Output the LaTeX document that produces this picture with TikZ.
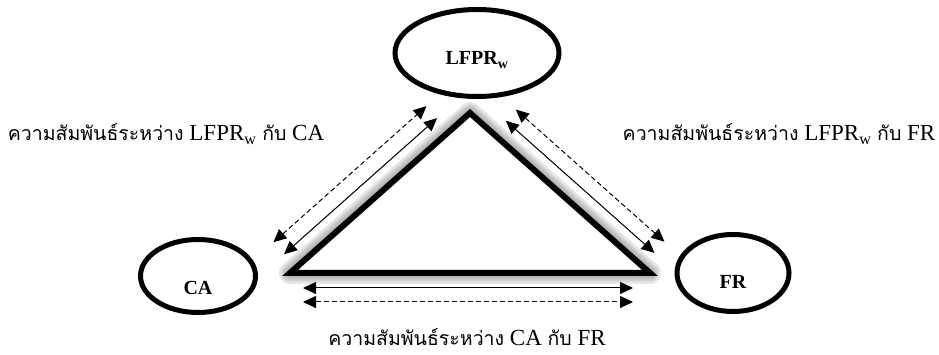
\documentclass[tikz,border=0pt]{standalone}
\usepackage{fontspec}
\setmainfont{Liberation Serif}
\newfontfamily\thaifont[Script=Thai]{Loma}
\usetikzlibrary{calc,shapes.geometric,arrows.meta}

\tikzset{
  bubble/.style={ellipse,draw,line width=5pt,inner sep=0pt,font=\fontsize{20}{24}\selectfont\bfseries},
  relarrow/.style={{Triangle[length=13pt,width=12pt]}-{Triangle[length=13pt,width=12pt]},line width=1pt},
  reldash/.style={relarrow,dash pattern=on 5pt off 3pt},
  rellabel/.style={font=\fontsize{23}{27}\selectfont,inner sep=0pt},
  glow/.style={line width=#1,gray,opacity=0.2,line join=round},
}
\newcommand{\thaiword}[1]{{\thaifont\fontsize{19.5}{24}\selectfont #1}}
\newcommand{\reltext}[2]{\thaiword{ความสัมพันธ์ระหว่าง} #1 \thaiword{กับ} #2}

\begin{document}
\begin{tikzpicture}[x=1pt,y=1pt]
    \useasboundingbox (0,0) rectangle (939,355);

    \coordinate (apex) at (470,242);
    \coordinate (bl) at (290,82);
    \coordinate (br) at (650,82);

    % glow round the triangle
    \foreach \w in {22,17,13,9} {
      \draw[glow=\w pt] (bl) -- (apex) -- (br) -- cycle;
    }
    \fill[white] (bl) -- (apex) -- (br) -- cycle;
    \draw[line width=6pt,miter limit=10] (bl) -- (apex) -- (br) -- cycle;

    \node[bubble,minimum width=164pt,minimum height=87pt] (lfpr) at (477,302)
      {\raisebox{-7pt}[\height][\depth]{LFPR\textsubscript{w}}};
    \node[bubble,minimum width=115pt,minimum height=73pt] (ca) at (198,79)
      {\raisebox{-12pt}[\height][\depth]{CA}};
    \node[bubble,minimum width=112pt,minimum height=77pt] (fr) at (733,82)
      {\raisebox{-9pt}[\height][\depth]{FR}};

    % arrow ends beside each side
    \coordinate (lsa) at ($(bl)!8pt!(apex)!18pt!90:(apex)$);
    \coordinate (lsb) at ($(apex)!28pt!(bl)!18pt!-90:(bl)$);
    \coordinate (lda) at ($(bl)!8pt!(apex)!34pt!90:(apex)$);
    \coordinate (ldb) at ($(apex)!28pt!(bl)!34pt!-90:(bl)$);
    \coordinate (rsa) at ($(br)!10pt!(apex)!18pt!-90:(apex)$);
    \coordinate (rsb) at ($(apex)!32pt!(br)!18pt!90:(br)$);
    \coordinate (rda) at ($(br)!10pt!(apex)!33pt!-90:(apex)$);
    \coordinate (rdb) at ($(apex)!32pt!(br)!33pt!90:(br)$);
    \coordinate (bsa) at ($(bl)!13pt!(br)!15pt!-90:(br)$);
    \coordinate (bsb) at ($(br)!17pt!(bl)!15pt!90:(bl)$);
    \coordinate (bda) at ($(bl)!13pt!(br)!29pt!-90:(br)$);
    \coordinate (bdb) at ($(br)!17pt!(bl)!29pt!90:(bl)$);

    \draw[relarrow] (lsa) -- (lsb);
    \draw[reldash] (lda) -- (ldb);
    \draw[relarrow] (rsa) -- (rsb);
    \draw[reldash] (rda) -- (rdb);
    \draw[relarrow] (bsa) -- (bsb);
    \draw[reldash] (bda) -- (bdb);

    \node[rellabel] (relleft) at (166,221) {\reltext{LFPR\textsubscript{w}}{CA}};
    \node[rellabel] (relright) at (779,221) {\reltext{LFPR\textsubscript{w}}{FR}};
    \node[rellabel] (relbottom) at (467,18) {\reltext{CA}{FR}};
\end{tikzpicture}
\end{document}
